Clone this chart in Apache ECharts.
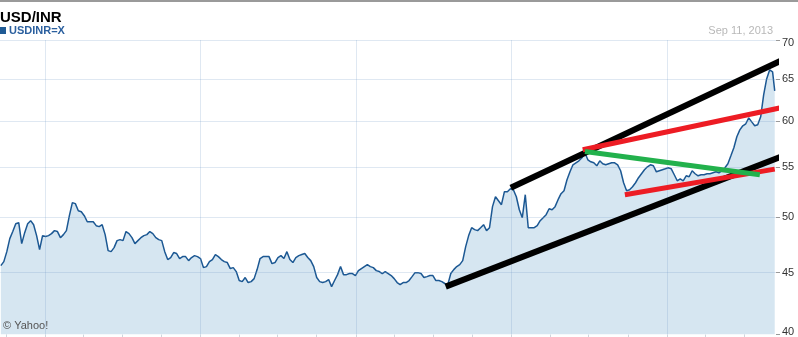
<!DOCTYPE html>
<html>
<head>
<meta charset="utf-8">
<script src="https://cdn.jsdelivr.net/npm/echarts@6/dist/echarts.min.js"></script>
<style>
html,body{margin:0;padding:0;background:#fff;}
#chart{width:798px;height:337px;}
</style>
</head>
<body>
<div id="chart"></div>
<script>
// ---- data ----
const firstWeek = '2008-09-19';   // weekly closes (Fridays) from this date
const lastDate = '2013-09-11';
const weeklyValues = [
45.59,45.94,46.82,47.99,48.64,49.37,49.47,47.54,48.54,49.37,
49.66,49.28,48.27,47.00,48.27,48.18,48.27,48.45,48.73,48.64,
48.08,48.36,48.73,50.13,51.39,51.29,50.61,50.51,50.13,49.56,
49.56,49.56,49.19,49.10,49.28,48.36,46.91,46.82,47.18,47.81,
47.90,47.81,48.64,48.45,48.08,47.54,47.81,48.08,48.27,48.36,
48.64,48.45,48.08,47.90,47.81,46.82,46.12,46.30,46.74,46.65,
46.21,46.38,46.38,46.03,46.30,46.47,46.38,46.21,45.42,45.51,
45.94,46.12,46.56,46.38,46.12,45.94,45.86,45.34,45.42,45.08,
44.32,44.23,44.57,44.15,44.23,44.48,45.25,46.21,46.38,46.38,
46.38,45.77,45.86,46.30,46.47,46.21,46.82,46.12,45.86,46.30,
46.47,46.56,46.65,46.30,46.03,45.51,44.57,44.23,44.15,44.23,
44.40,43.81,44.32,44.82,45.51,44.82,44.82,44.91,44.91,44.74,
45.16,45.34,45.51,45.68,45.51,45.42,45.16,45.08,44.91,45.08,
44.91,44.74,44.48,44.15,43.98,44.15,44.15,44.32,44.65,44.99,
44.99,44.91,44.57,44.65,44.74,44.74,44.32,44.32,44.23,44.07,
43.98,44.91,45.25,45.51,45.68,46.03,47.27,48.27,49.00,48.82,
48.73,49.00,49.28,48.73,49.00,51.00,51.97,51.58,51.19,52.47,
52.47,52.77,52.67,51.97,50.70,49.94,52.17,49.00,49.00,49.00,
49.19,49.66,49.94,50.23,50.80,50.70,51.00,51.68,52.27,52.57,
53.67,54.49,55.22,55.43,55.64,55.96,56.50,55.75,55.54,55.43,
55.12,55.64,55.33,55.22,55.33,55.43,55.43,55.22,54.60,53.37,
52.57,52.67,52.97,53.37,53.88,54.29,54.70,55.01,55.22,55.12,
54.49,54.60,54.70,54.80,54.91,54.80,54.19,53.57,53.77,53.57,
54.08,53.98,54.60,54.29,54.08,54.19,54.19,54.29,54.29,54.39,
54.49,54.39,54.60,54.91,55.33,56.17,57.04,58.24,59.01,59.47,
59.70,60.37,59.91,59.47,59.58,60.49,63.07,65.01,66.13,65.88
];
const lastValue = 63.55;

const yTicks = [40, 45, 50, 55, 60, 65, 70];
const yearLines = ['2009-01-01', '2010-01-01', '2011-01-01', '2012-01-01', '2013-01-01'];
const quarterTicks = [
'2008-10-01','2009-01-01','2009-04-01','2009-07-01','2009-10-01','2010-01-01','2010-04-01','2010-07-01','2010-10-01',
'2011-01-01','2011-04-01','2011-07-01','2011-10-01','2012-01-01','2012-04-01','2012-07-01','2012-10-01',
'2013-01-01','2013-04-01','2013-07-01'
];

// hand-drawn trend lines: [startDate, startValue, endDate, endValue]
const blackUpper = [['2011-12-31', 52.87], ['2013-09-27', 67.33]];
const blackLower = [['2011-07-31', 43.81], ['2013-09-25', 56.07]];
const redUpper   = [['2012-06-17', 56.82], ['2013-09-29', 61.59]];
const redLower   = [['2012-09-24', 52.17], ['2013-09-11', 54.77]];
const greenLine  = [['2012-06-22', 56.63], ['2013-08-07', 54.19]];

// ---- build ----
function ts(s){ const p = s.split('-'); return Date.UTC(+p[0], +p[1]-1, +p[2]); }
const series0 = [];
const t0 = ts(firstWeek);
for (let i = 0; i < weeklyValues.length; i++) series0.push([t0 + i*7*86400000, weeklyValues[i]]);
series0.push([ts(lastDate), lastValue]);
const tl = arr => arr.map(p => [ts(p[0]), p[1]]);

const chart = echarts.init(document.getElementById('chart'), null, {renderer:'canvas'});
const FONT = 'Liberation Sans, Arial, sans-serif';
const gridColor = 'rgba(110,150,195,0.22)';

function trend(data, color, width){
  return { type:'line', data: tl(data), symbol:'none', clip:false, silent:true, z:10,
    lineStyle:{color, width, cap:'butt'}, animation:false };
}

chart.setOption({
  animation:false,
  grid:{left:0, right:22, top:40, bottom:2, containLabel:false},
  xAxis:{
    type:'time', min: ts('2008-09-17'), max: ts('2013-09-14'),
    axisLine:{show:false},
    axisLabel:{show:false},
    axisTick:{show:true, length:3, lineStyle:{color:'#cfd6dd'}, customValues: quarterTicks.map(ts)},
    splitLine:{show:false}
  },
  yAxis:{
    type:'log', logBase:10, min:40, max:70, position:'right',
    axisLine:{show:false},
    axisTick:{show:true, length:4, inside:false, lineStyle:{color:'#999'}, customValues: yTicks},
    axisLabel:{show:true, customValues: yTicks, color:'#333', fontSize:11, fontFamily:FONT, margin:6,
      lineHeight:6,
      verticalAlignMinLabel:'bottom', verticalAlignMaxLabel:'top',
      formatter: v => String(Math.round(v))},
    splitLine:{show:false}
  },
  graphic:[
    {type:'rect', shape:{x:0,y:0,width:798,height:2}, style:{fill:'#9a9a9a'}, silent:true},
    {type:'text', left:0, top:10, style:{text:'USD/INR', font:'bold 15px '+FONT, fill:'#000'}},
    {type:'rect', shape:{x:0,y:27,width:6,height:7}, style:{fill:'#1f5a94'}},
    {type:'text', left:9, top:25, style:{text:'USDINR=X', font:'bold 11px '+FONT, fill:'#2a5f9e'}},
    {type:'text', right:25, top:25, style:{text:'Sep 11, 2013', font:'11px '+FONT, fill:'#b8b8b8'}},
    {type:'text', left:3, top:320, z:20, style:{text:'© Yahoo!', font:'11px '+FONT, fill:'#555'}}
  ],
  series:[
    { type:'line', data:series0, symbol:'none', silent:true, z:1,
      lineStyle:{width:0}, areaStyle:{color:'#d6e6f1', opacity:1}, animation:false },
    { type:'line', data:[], silent:true, z:2, animation:false,
      markLine:{ silent:true, symbol:['none','none'], label:{show:false}, animation:false,
        lineStyle:{color:gridColor, width:1, type:'solid'},
        data: yTicks.filter(v=>v>40).map(v=>({yAxis:v})).concat(yearLines.map(d=>({xAxis:ts(d)}))) } },
    { type:'line', data:series0, symbol:'none', silent:true, z:3,
      lineStyle:{color:'#1c5893', width:1.5}, animation:false },
    trend(blackUpper, '#000', 6),
    trend(blackLower, '#000', 6),
    trend(redUpper, '#ed1c24', 5),
    trend(redLower, '#ed1c24', 5),
    trend(greenLine, '#22b14c', 5)
  ]
});
</script>
</body>
</html>
